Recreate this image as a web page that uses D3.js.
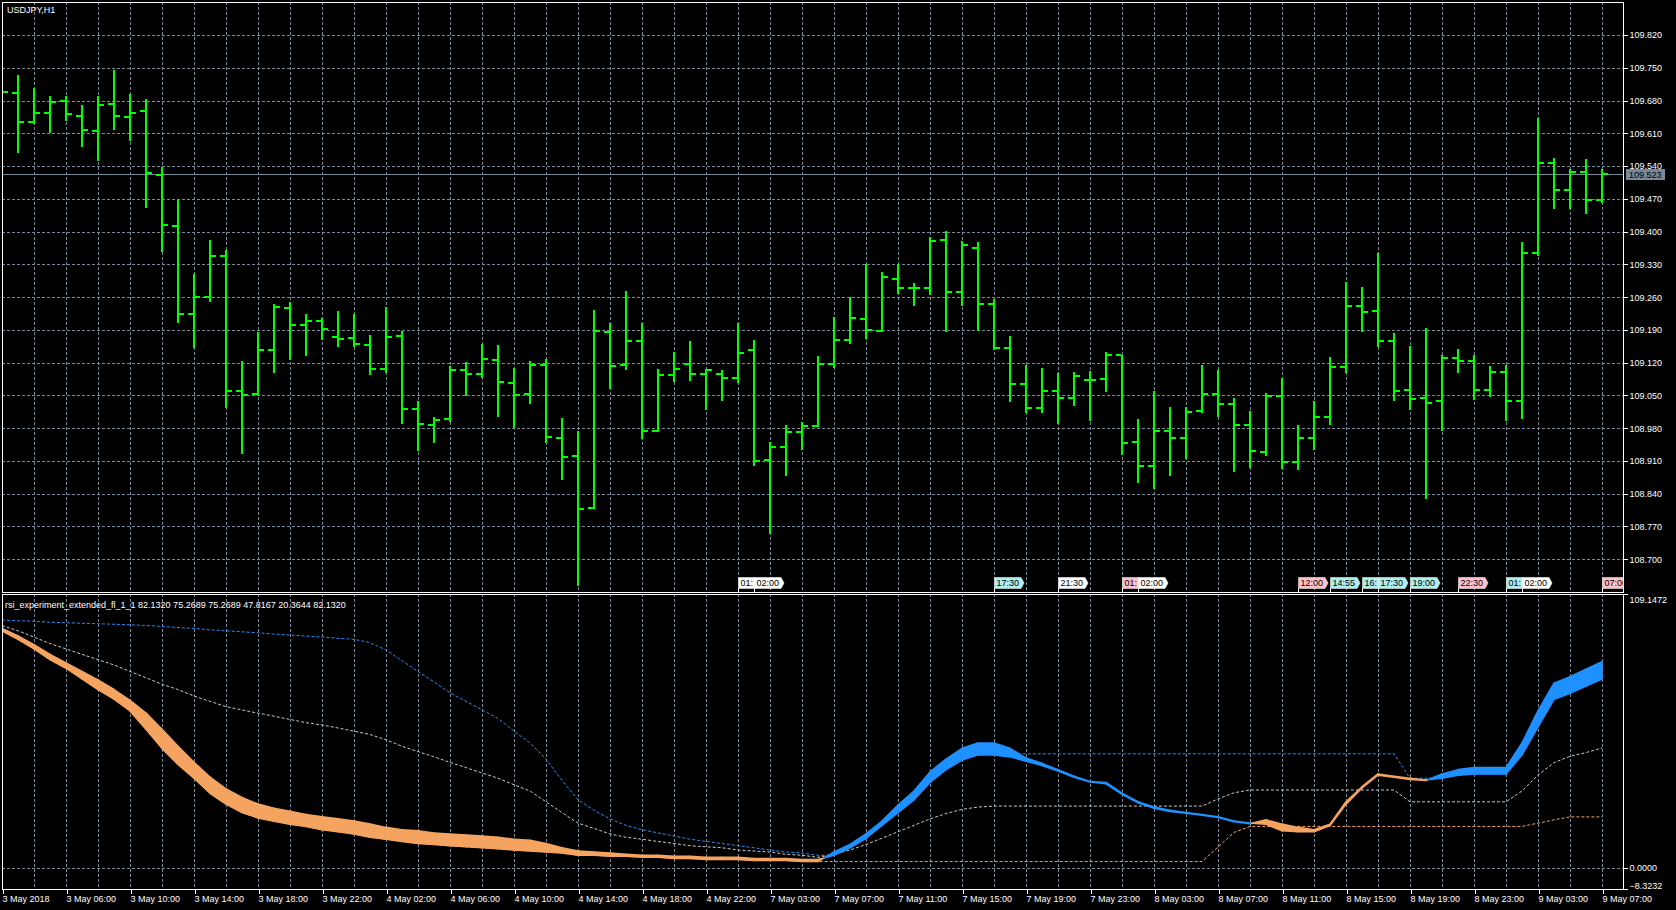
<!DOCTYPE html>
<html><head><meta charset="utf-8">
<script src="https://cdn.jsdelivr.net/npm/d3@7"></script>
<style>
html,body{margin:0;padding:0;background:#000;overflow:hidden}
svg{display:block}
text{font-family:"Liberation Sans",Arial,sans-serif;font-size:9px}
</style></head><body>
<svg id="c" width="1676" height="910"></svg>
<script>
// ---------- DATA ----------
const symbolTitle = "USDJPY,H1";
const indicatorTitle = "rsi_experiment_extended_fl_1_1 82.1320 75.2689 75.2689 47.8167 20.3644 82.1320";
const open = [109.700,109.696,109.634,109.653,109.679,109.648,109.615,109.672,109.644,109.657,
109.520,109.411,109.223,109.260,109.347,109.059,109.052,109.148,109.236,109.201,
109.208,109.174,109.172,109.157,109.107,109.176,109.022,108.986,108.999,109.104,
109.095,109.125,109.076,109.052,109.115,108.958,108.921,108.810,109.185,109.115,
109.167,108.975,109.093,109.117,109.095,109.095,109.088,109.148,108.911,108.939,
108.971,108.984,109.118,109.169,109.213,109.187,109.298,109.279,109.279,109.382,
109.271,109.366,109.246,109.151,109.074,109.024,109.059,109.045,109.082,109.086,
109.137,108.950,108.900,108.975,108.959,109.016,109.054,109.031,108.986,108.929,
109.048,108.908,108.959,109.004,109.111,109.241,109.231,109.167,109.061,109.045,
109.037,109.129,109.124,109.061,109.101,109.037,109.355,109.547,109.488,109.527,109.467];
const high = [109.720,109.735,109.706,109.689,109.689,109.671,109.689,109.746,109.695,109.684,
109.539,109.467,109.310,109.383,109.361,109.124,109.185,109.246,109.250,109.224,
109.216,109.231,109.223,109.178,109.238,109.188,109.037,109.004,109.113,109.122,
109.160,109.157,109.108,109.124,109.128,109.002,108.975,109.232,109.204,109.273,
109.204,109.107,109.143,109.166,109.107,109.104,109.204,109.168,108.951,108.986,
108.993,109.134,109.218,109.260,109.331,109.314,109.330,109.291,109.389,109.401,
109.380,109.377,109.257,109.177,109.115,109.109,109.098,109.101,109.103,109.143,
109.137,109.000,109.060,109.025,109.026,109.115,109.105,109.045,109.017,109.056,
109.088,108.986,109.039,109.131,109.292,109.282,109.355,109.183,109.155,109.195,
109.137,109.150,109.137,109.113,109.116,109.378,109.643,109.558,109.533,109.556,109.534];
const low = [109.660,109.570,109.631,109.612,109.638,109.582,109.554,109.619,109.595,109.452,
109.358,109.206,109.153,109.251,109.026,108.928,109.052,109.101,109.127,109.137,
109.171,109.155,109.156,109.095,109.101,108.990,108.933,108.950,108.995,109.051,
109.089,109.007,108.983,109.033,108.950,108.872,108.646,108.810,109.066,109.106,
108.959,108.975,109.081,109.082,109.020,109.040,109.078,108.901,108.755,108.881,
108.936,108.984,109.111,109.161,109.172,109.187,109.268,109.243,109.266,109.187,
109.244,109.190,109.150,109.038,109.014,109.015,108.992,109.030,108.997,109.059,
108.925,108.865,108.852,108.880,108.917,109.014,109.005,108.889,108.898,108.922,
108.894,108.892,108.936,108.988,109.101,109.187,109.156,109.040,109.020,108.830,
108.976,109.099,109.043,109.048,108.998,109.001,109.350,109.451,109.451,109.439,109.464];
const close = [109.698,109.634,109.653,109.676,109.651,109.618,109.670,109.646,109.653,109.525,
109.414,109.223,109.260,109.347,109.059,109.050,109.148,109.238,109.201,109.210,
109.191,109.170,109.159,109.106,109.174,109.022,108.989,108.997,109.104,109.095,
109.127,109.078,109.050,109.115,108.961,108.919,108.808,109.187,109.113,109.167,
108.973,109.093,109.106,109.095,109.104,109.088,109.141,108.909,108.939,108.971,
108.984,109.118,109.169,109.215,109.190,109.302,109.279,109.279,109.380,109.271,
109.371,109.246,109.151,109.074,109.023,109.059,109.045,109.091,109.083,109.137,
108.948,108.900,108.973,108.959,109.014,109.054,109.031,108.986,108.931,109.048,
108.908,108.959,109.004,109.111,109.242,109.229,109.167,109.059,109.042,109.034,
109.129,109.124,109.061,109.101,109.037,109.355,109.547,109.488,109.527,109.468,109.523];
const currentPrice = 109.523;

// indicator buffers
const rsiFast = [94.5,91.1,87.3,83.0,79.6,75.4,71.1,67.3,62.6,55.3,
47.7,41.3,35.8,29.8,25.5,22.1,20.0,18.7,17.5,16.6,
15.3,14.5,13.6,12.3,11.5,10.6,9.8,9.4,8.9,8.5,
8.1,7.7,7.2,6.8,6.4,6.0,5.1,5.1,4.7,4.7,
4.3,4.3,3.8,3.8,3.4,3.4,3.4,3.0,3.0,3.0,
2.6,2.6,6.4,9.4,13.6,18.7,25.1,30.7,38.3,43.4,
47.7,49.8,49.8,47.7,43.8,41.7,39.2,36.6,34.5,34.1,
29.8,26.4,24.3,23.0,22.1,21.3,20.4,18.7,17.9,17.5,
14.9,14.5,14.5,17.0,25.5,31.9,37.0,36.2,35.3,34.9,
37.5,39.2,40.0,40.0,40.0,49.8,62.6,73.6,76.2,79.2,82.132];
const rsiSlow = [95.4,92.4,89.0,85.1,81.7,78.3,74.9,71.1,66.8,61.7,
55.3,48.5,42.1,36.2,31.5,28.1,25.5,23.8,22.6,21.3,
20.4,19.6,18.7,17.5,16.2,15.3,14.9,14.0,13.6,13.2,
12.8,12.3,11.5,11.1,9.8,8.1,6.8,6.4,6.0,5.5,
5.1,5.1,4.7,4.7,4.3,4.3,4.3,3.8,3.8,3.8,
3.4,3.4,5.1,8.1,11.9,17.0,22.1,27.2,34.1,39.2,
43.0,45.1,45.1,44.3,42.6,40.9,38.7,36.2,34.3,33.6,
29.4,26.0,23.8,22.6,21.9,21.1,20.2,18.5,17.7,19.2,
17.5,16.2,15.3,17.5,26.4,32.4,37.5,36.6,35.8,35.1,
35.8,37.0,37.5,37.5,37.5,45.1,56.2,67.2,69.6,72.5,75.2689];
const levelUpper = [98.8,98.5,98.3,97.9,97.7,97.5,97.3,97.1,96.9,96.6,
96.2,95.8,95.4,94.9,94.5,94.1,93.7,93.2,92.8,92.4,
92.0,91.5,91.1,89.8,86.8,82.6,78.3,74.1,69.8,66.4,
63.0,59.6,54.5,49.8,43.4,34.9,27.2,23.0,19.6,17.0,
15.3,14.0,12.8,11.5,10.6,9.8,8.9,8.1,7.2,6.4,
6.0,5.1,5.1,8.1,11.9,17.0,22.1,27.2,34.1,39.2,
43.0,45.1,45.5,45.5,45.5,45.5,45.5,45.5,45.5,45.5,
45.5,45.5,45.5,45.5,45.5,45.5,45.5,45.5,45.5,45.5,
45.5,45.5,45.5,45.5,45.5,45.5,45.5,45.5,35.8,35.8,
35.8,37.0,37.5,37.5,37.5,45.1,56.2,67.2,69.6,72.5,75.2689];
const levelMid = [96.6,94.5,92.0,89.4,87.3,85.1,83.0,80.9,78.3,75.8,
73.2,71.1,68.5,66.4,64.3,63.0,61.7,60.5,59.2,57.9,
57.0,55.8,54.5,53.2,51.1,48.5,46.4,44.3,42.1,40.0,
37.9,35.8,33.2,30.7,26.4,22.1,17.9,15.8,13.6,12.3,
11.5,10.6,9.8,8.9,8.5,8.1,7.2,6.8,6.4,5.5,
5.1,4.3,5.5,7.2,9.4,11.9,14.5,17.0,19.6,21.7,
23.4,24.3,24.7,24.7,24.7,24.7,24.7,24.7,24.7,24.7,
24.7,24.7,24.7,24.7,24.7,24.7,27.5,30.0,31.1,31.1,
31.1,31.1,31.1,31.1,31.1,31.1,31.1,31.1,26.4,26.4,
26.4,26.4,26.4,26.4,26.4,30.7,37.0,42.0,44.5,46.0,47.8167];
const levelLower = [94.5,91.1,87.3,83.0,79.6,75.4,71.1,67.3,62.6,55.3,
47.7,41.3,35.8,29.8,25.5,22.1,20.0,18.7,17.5,16.6,
15.3,14.5,13.6,12.3,11.5,10.6,9.8,9.4,8.9,8.5,
8.1,7.7,7.2,6.8,6.4,6.0,5.1,5.1,4.7,4.7,
4.3,4.3,3.8,3.8,3.4,3.4,3.4,3.0,3.0,3.0,
2.6,2.6,2.6,2.6,2.6,2.6,2.6,2.6,2.6,2.6,
2.6,2.6,2.6,2.6,2.6,2.6,2.6,2.6,2.6,2.6,
2.6,2.6,2.6,2.6,2.6,2.6,8.4,14.2,16.6,16.6,
16.6,16.6,16.6,16.6,16.6,16.6,16.6,16.6,16.6,16.6,
16.6,16.6,16.6,16.6,16.6,16.6,17.9,19.2,20.4,20.4,20.3644];

const priceTicks = [108.700,108.770,108.840,108.910,108.980,109.050,109.120,109.190,109.260,109.330,109.400,109.470,109.540,109.610,109.680,109.750,109.820];
const subTicks = [109.1472, 0.0000, -8.3232];
const timeTickIndex = [0,4,8,12,16,20,24,28,32,36,40,44,48,52,56,60,64,68,72,76,80,84,88,92,96,100];
const timeTickLabels = ["3 May 2018","3 May 06:00","3 May 10:00","3 May 14:00","3 May 18:00","3 May 22:00",
"4 May 02:00","4 May 06:00","4 May 10:00","4 May 14:00","4 May 18:00","4 May 22:00",
"7 May 03:00","7 May 07:00","7 May 11:00","7 May 15:00","7 May 19:00","7 May 23:00",
"8 May 03:00","8 May 07:00","8 May 11:00","8 May 15:00","8 May 19:00","8 May 23:00",
"9 May 03:00","9 May 07:00"];
const eventIndex = [46,47,62,66,70,71,81,83,85,86,88,91,94,95,100];
const eventText = ["01:","02:00","17:30","21:30","01:","02:00","12:00","14:55","16:","17:30","19:00","22:30","01:","02:00","07:00"];
const eventKind = ["w","w","c","w","p","w","p","c","c","c","c","p","c","w","p"];

// ---------- LAYOUT ----------
const L = 2, R = 1623;
const topY0 = 2, topY1 = 592, subY0 = 594, subY1 = 889;
const GRID = "#778899";
const kindColor = {w:"#ffffff", c:"#afeeee", p:"#ffc0cb"};

const svg = d3.select("#c");
svg.append("rect").attr("width",1676).attr("height",910).attr("fill","#000");

const n = close.length;
const x = d3.scaleLinear().domain([0, n-1]).range([2, 1602]);
const yP = d3.scaleLinear().domain([108.630, 109.8905]).range([topY1, topY0]);
const yS = d3.scaleLinear().domain([-8.3232, 109.1472]).range([subY1, subY0]);

const defs = svg.append("defs");
defs.append("clipPath").attr("id","clipTop").append("rect").attr("x",L+1).attr("y",topY0+1).attr("width",R-L-1).attr("height",topY1-topY0-1);
defs.append("clipPath").attr("id","clipSub").append("rect").attr("x",L+1).attr("y",subY0+1).attr("width",R-L-1).attr("height",subY1-subY0-1);

// ---------- GRID ----------
const gTop = svg.append("g").attr("clip-path","url(#clipTop)");
const gSub = svg.append("g").attr("clip-path","url(#clipSub)");
const vIdx = d3.range(0, n, 2);
[[gTop, topY0, topY1],[gSub, subY0, subY1]].forEach(([g,y0,y1]) => {
  g.selectAll("line.vg").data(vIdx).join("line").attr("class","vg")
    .attr("x1", d => Math.round(x(d))+0.5).attr("x2", d => Math.round(x(d))+0.5)
    .attr("y1", y0).attr("y2", y1)
    .attr("stroke", GRID).attr("stroke-width",1).attr("stroke-dasharray","3,2");
});
gTop.selectAll("line.hg").data(priceTicks).join("line").attr("class","hg")
  .attr("x1", L).attr("x2", R)
  .attr("y1", d => Math.round(yP(d))+0.5).attr("y2", d => Math.round(yP(d))+0.5)
  .attr("stroke", GRID).attr("stroke-dasharray","3,2");
gSub.append("line").attr("x1",L).attr("x2",R)
  .attr("y1", Math.round(yS(0))+0.5).attr("y2", Math.round(yS(0))+0.5)
  .attr("stroke", GRID).attr("stroke-dasharray","3,2");

// current price line
gTop.append("line").attr("x1",L).attr("x2",R)
  .attr("y1", Math.round(yP(currentPrice))+0.5).attr("y2", Math.round(yP(currentPrice))+0.5)
  .attr("stroke", GRID).attr("stroke-width",1);

// ---------- OHLC BARS ----------
const idx = d3.range(n);
const barG = gTop.append("g").attr("fill","#00ff00").attr("shape-rendering","crispEdges");
barG.selectAll("rect.v").data(idx).join("rect").attr("class","v")
  .attr("x", i => Math.round(x(i))-1).attr("width",2)
  .attr("y", i => Math.round(yP(high[i])))
  .attr("height", i => Math.max(2, Math.round(yP(low[i])) - Math.round(yP(high[i])) + 1));
barG.selectAll("rect.o").data(idx).join("rect").attr("class","o")
  .attr("x", i => Math.round(x(i))-6).attr("width",5)
  .attr("y", i => Math.round(yP(open[i]))-1).attr("height",2);
barG.selectAll("rect.c").data(idx).join("rect").attr("class","c")
  .attr("x", i => Math.round(x(i))+1).attr("width",5)
  .attr("y", i => Math.round(yP(close[i]))-1).attr("height",2);

// ---------- EVENT LABELS ----------
const evG = gTop.append("g");
eventIndex.forEach((bi, k) => {
  const x0 = Math.round(x(bi)) + 0.5;
  const g = evG.append("g");
  const t = g.append("text").attr("x", x0+2).attr("y", 586).text(eventText[k]).attr("fill","#000");
  const w = Math.max(t.node().getComputedTextLength() + 4, 14);
  const top = 577.5, h = 11;
  g.insert("path", () => t.node())
    .attr("d", `M${x0},${top}h${w}l3,${h/2}l-3,${h/2}h${-w}z`)
    .attr("fill", kindColor[eventKind[k]]).attr("stroke","#ffffff").attr("stroke-width",0.5);
  g.append("line").attr("x1",x0).attr("x2",x0).attr("y1",top+h).attr("y2",topY1)
    .attr("stroke","#ffffff");
});

// ---------- INDICATOR ----------
const line = (arr) => d3.line().x((d,i)=>x(i)).y(d=>yS(d))(arr);
gSub.append("path").attr("d", line(levelUpper)).attr("fill","none").attr("stroke","#1e90ff").attr("stroke-dasharray","3,2");
gSub.append("path").attr("d", line(levelMid)).attr("fill","none").attr("stroke","#c8c8c8").attr("stroke-dasharray","3,2");
gSub.append("path").attr("d", line(levelLower)).attr("fill","none").attr("stroke","#f4a460").attr("stroke-dasharray","3,2");

// filling between fast and slow, split at crossings
const segs = [];
for (let i = 0; i < n-1; i++) {
  const d0 = rsiFast[i]-rsiSlow[i], d1 = rsiFast[i+1]-rsiSlow[i+1];
  if (d0*d1 < 0) {
    const t = d0/(d0-d1);
    const xm = i + t, vm = rsiFast[i] + t*(rsiFast[i+1]-rsiFast[i]);
    segs.push({pts:[[i,rsiFast[i],rsiSlow[i]],[xm,vm,vm]], up: d0>0});
    segs.push({pts:[[xm,vm,vm],[i+1,rsiFast[i+1],rsiSlow[i+1]]], up: d1>0});
  } else {
    segs.push({pts:[[i,rsiFast[i],rsiSlow[i]],[i+1,rsiFast[i+1],rsiSlow[i+1]]], up: (d0+d1)>=0});
  }
}
const area = d3.area().x(p=>x(p[0])).y0(p=>yS(p[2])).y1(p=>yS(p[1]));
gSub.selectAll("path.fill").data(segs).join("path").attr("class","fill")
  .attr("d", s => area(s.pts))
  .attr("fill", s => s.up ? "#1e90ff" : "#f4a460")
  .attr("stroke", s => s.up ? "#1e90ff" : "#f4a460")
  .attr("stroke-width", 1.6).attr("stroke-linejoin","round");

// ---------- FRAMES ----------
const fr = svg.append("g").attr("fill","none").attr("stroke","#ffffff").attr("stroke-width",1).attr("shape-rendering","crispEdges");
fr.append("rect").attr("x",L+0.5).attr("y",topY0+0.5).attr("width",R-L).attr("height",topY1-topY0);
fr.append("rect").attr("x",L+0.5).attr("y",subY0+0.5).attr("width",R-L).attr("height",subY1-subY0);

// ---------- AXES ----------
const axP = svg.append("g").attr("transform",`translate(${R+0.5},0)`)
  .call(d3.axisRight(yP).tickValues(priceTicks).tickSize(4).tickPadding(2).tickFormat(d3.format(".3f")));
const axS = svg.append("g").attr("transform",`translate(${R+0.5},0)`)
  .call(d3.axisRight(yS).tickValues(subTicks).tickSize(4).tickPadding(2).tickFormat(d3.format(".4f")));
const axX = svg.append("g").attr("transform",`translate(0,${subY1+0.5})`)
  .call(d3.axisBottom(x).tickValues(timeTickIndex).tickSize(4).tickPadding(2)
  .tickFormat((d,k)=>timeTickLabels[k]));
[axP, axS, axX].forEach(a => {
  a.select(".domain").remove();
  a.selectAll("line").attr("stroke","#ffffff").attr("shape-rendering","crispEdges");
  a.selectAll("text").attr("fill","#ffffff").style("font-family",'"Liberation Sans",Arial,sans-serif').style("font-size","9px");
});
axX.selectAll(".tick line").attr("transform","translate(0.5,0)");
axX.selectAll(".tick text").attr("text-anchor","start").attr("x",0);
axS.selectAll(".tick text").attr("dy", d => d === 109.1472 ? "0.95em" : (d < 0 ? "-0.1em" : "0.32em"));

// current price tag
const cpY = Math.round(yP(currentPrice));
svg.append("rect").attr("x",R+3).attr("y",cpY-5).attr("width",39).attr("height",11).attr("fill","#778899");
svg.append("text").attr("x",R+6).attr("y",cpY+4).attr("fill","#000").text(d3.format(".3f")(currentPrice));

// ---------- TITLES ----------
svg.append("text").attr("x",7).attr("y",13).attr("fill","#fff").text(symbolTitle);
svg.append("text").attr("x",5).attr("y",608).attr("fill","#fff").text(indicatorTitle);
</script>
</body></html>
